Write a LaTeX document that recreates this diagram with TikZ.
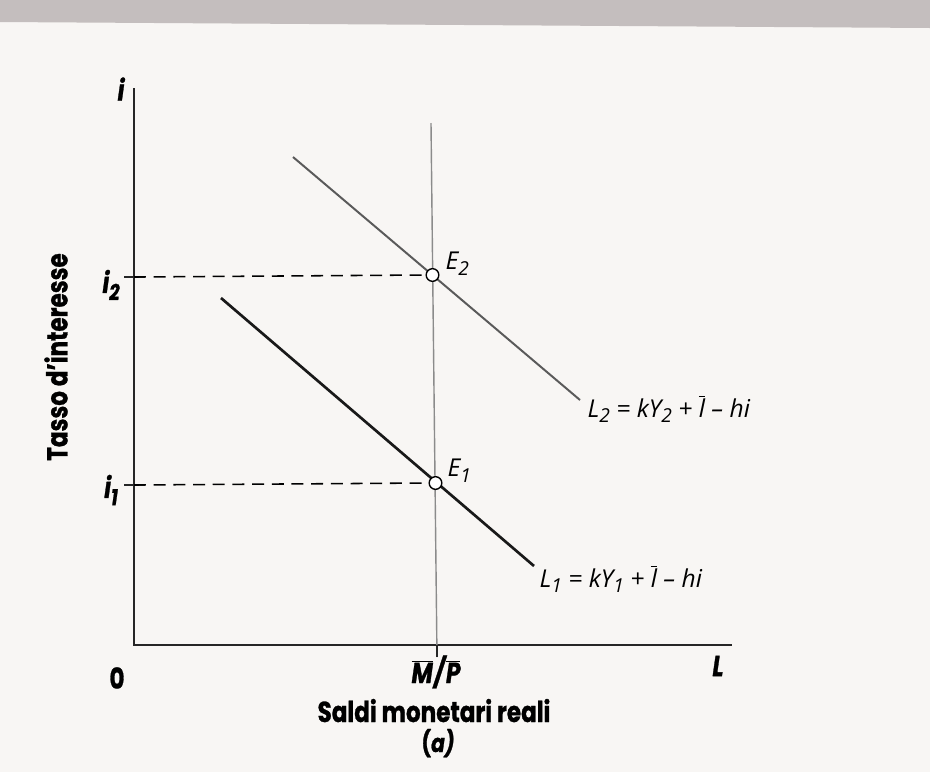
\documentclass[tikz,border=0pt]{standalone}
\usepackage{fontspec}
\usepackage{graphicx}
\usepackage{tikz}
\setmainfont{Liberation Sans}
\newfontfamily\labfont{Poppins}[FakeStretch=0.8,
  BoldFeatures={FakeBold=1},BoldItalicFeatures={FakeBold=1}]
\newfontfamily\eqfont{Open Sans}
\usetikzlibrary{positioning}
\definecolor{Paper}{RGB}{248,246,244}
\definecolor{ScanBand}{RGB}{196,190,190}
\definecolor{InkGray}{RGB}{90,90,90}
\newcommand{\lowidx}[1]{\raisebox{-0.45ex}{\scalebox{0.78}{#1}}}
\newcommand{\barred}[1]{$\overline{\hbox{#1}}$}

\begin{document}
\begin{tikzpicture}[x=0.025cm,y=-0.025cm,
    axis/.style={line width=1.3pt,black!85},
    curve/.style={line width=1.9pt,black!90},
    guide/.style={line width=1.1pt,dash pattern=on 8.5pt off 5.5pt},
    eqpt/.style={circle,draw,line width=1pt,fill=white,inner sep=0pt,minimum size=9pt},
    axlab/.style={font=\fontsize{20.5}{24}\selectfont\labfont\bfseries,inner sep=1pt},
    eqlab/.style={font=\fontsize{17.5}{21}\selectfont\eqfont\itshape,inner sep=1pt}]
% paper and scan edge
\fill[Paper] (0,0) rectangle (930,772);
\fill[ScanBand] (0,0) -- (930,0) -- (930,28) -- (0,22) -- cycle;
% axes
\coordinate (ytop) at (134,88);
\coordinate (O) at (134,645);
\coordinate (xend) at (732,645);
\draw[axis] (ytop) -- (O) -- (xend);
\draw[axis] (124,277) -- (145,277);
\draw[axis] (124,485) -- (145,485);
% real money supply
\coordinate (MPtop) at (431,123);
\coordinate (MPbot) at (437,657);
\draw[line width=1pt,InkGray!70] (MPtop) -- (MPbot);
\draw[axis] (437,645) -- (MPbot);
% money demand curves
\coordinate (L2a) at (293,157);
\coordinate (L2b) at (580,400);
\coordinate (L1a) at (221,298);
\coordinate (L1b) at (534,566);
\draw[line width=1.4pt,InkGray] (L2a) -- (L2b);
\draw[curve] (L1a) -- (L1b);
% equilibria
\node[eqpt] (E2) at (432.5,275) {};
\node[eqpt] (E1) at (435.5,483) {};
\coordinate (i2) at (134,277);
\coordinate (i1) at (134,485);
\draw[guide] (i2) -- (E2.west);
\draw[guide] (i1) -- (E1.west);
\node[eqlab,anchor=west] (E2lab) at (444,264) {E\lowidx{2}};
\node[eqlab,anchor=west] (E1lab) at (446,471) {E\lowidx{1}};
\node[eqlab,anchor=base west] (L2lab) at (586,417) {L\lowidx{2} = kY\lowidx{2} + \barred{\eqfont\itshape l} – hi};
\node[eqlab,anchor=base west] (L1lab) at (538,587) {L\lowidx{1} = kY\lowidx{1} + \barred{\eqfont\itshape l} – hi};
% axis labels
\node[axlab] (ilab) at (121,89) {\itshape i};
\node[axlab] (i2lab) at (111,285) {\itshape i\lowidx{2}};
\node[axlab] (i1lab) at (111,490) {\itshape i\lowidx{1}};
\node[axlab] (zero) at (117,678) {0};
\node[axlab] (Llab) at (718,666) {\itshape L};
\node[axlab] (MPlab) at (436,672) {\itshape\barred{M}\kern1pt/\kern1pt\barred{P}};
\node[axlab,rotate=90] (ylab) at (56,357) {Tasso d’interesse};
\node[axlab,anchor=base] (xlab) at (434,722) {Saldi monetari reali};
\node[axlab,anchor=base,font=\fontsize{18}{21}\selectfont\labfont\bfseries] (panel) at (438,752) {(\itshape a)};
\end{tikzpicture}
\end{document}
